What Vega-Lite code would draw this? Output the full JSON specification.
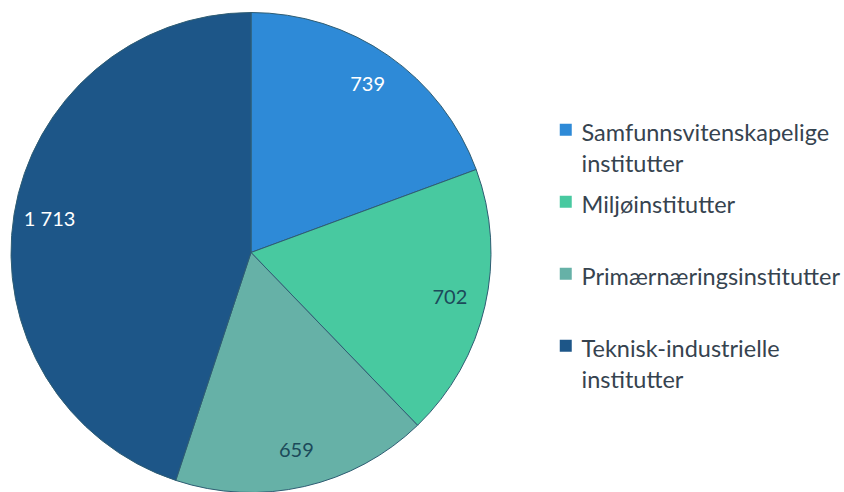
{
  "$schema": "https://vega.github.io/schema/vega-lite/v6.json",
  "autosize": "none",
  "width": 480,
  "height": 479,
  "padding": {"left": 11, "top": 13, "right": 353, "bottom": 0},
  "background": "white",
  "config": {
    "view": {"stroke": null},
    "font": "Lato",
    "style": {"guide-label": {"lineHeight": 31, "dy": -8}},
    "locale": {"number": {"decimal": ",", "thousands": " ", "grouping": [3], "currency": ["", " kr"]}}
  },
  "data": {
    "values": [
      {"kategori": "Samfunnsvitenskapelige|institutter", "antall": 739, "rekkefolge": 1},
      {"kategori": "Miljøinstitutter|", "antall": 702, "rekkefolge": 2},
      {"kategori": "Primærnæringsinstitutter|", "antall": 659, "rekkefolge": 3},
      {"kategori": "Teknisk-industrielle|institutter", "antall": 1713, "rekkefolge": 4}
    ]
  },
  "encoding": {
    "theta": {"field": "antall", "type": "quantitative", "stack": true},
    "order": {"field": "rekkefolge", "type": "quantitative"}
  },
  "layer": [
    {
      "mark": {"type": "arc", "outerRadius": 240, "stroke": "#2f5d73", "strokeWidth": 1},
      "encoding": {
        "color": {
          "field": "kategori",
          "type": "nominal",
          "sort": {"field": "rekkefolge"},
          "scale": {
            "domain": ["Samfunnsvitenskapelige|institutter", "Miljøinstitutter|", "Primærnæringsinstitutter|", "Teknisk-industrielle|institutter"],
            "range": ["#2e8ad7", "#48c9a0", "#66b1a7", "#1d5688"]
          },
          "legend": {
            "title": null,
            "orient": "none",
            "legendX": 543,
            "legendY": 105,
            "symbolType": "square",
            "symbolSize": 144,
            "symbolStrokeWidth": 0,
            "labelFontSize": 23.5,
            "labelColor": "#36434f",
            "labelFont": "Lato",
            "labelLimit": 400,
            "labelBaseline": "top",
            "labelOffset": 4,
            "rowPadding": 13,
            "labelExpr": "split(datum.label, '|')"
          }
        }
      }
    },
    {
      "mark": {"type": "text", "radius": 204, "fontSize": 20, "font": "Lato"},
      "encoding": {
        "text": {"field": "antall", "type": "quantitative", "format": ",d"},
        "color": {
          "condition": {"test": "datum.rekkefolge == 2 || datum.rekkefolge == 3", "value": "#1c4a5a"},
          "value": "#ffffff"
        }
      }
    }
  ]
}
